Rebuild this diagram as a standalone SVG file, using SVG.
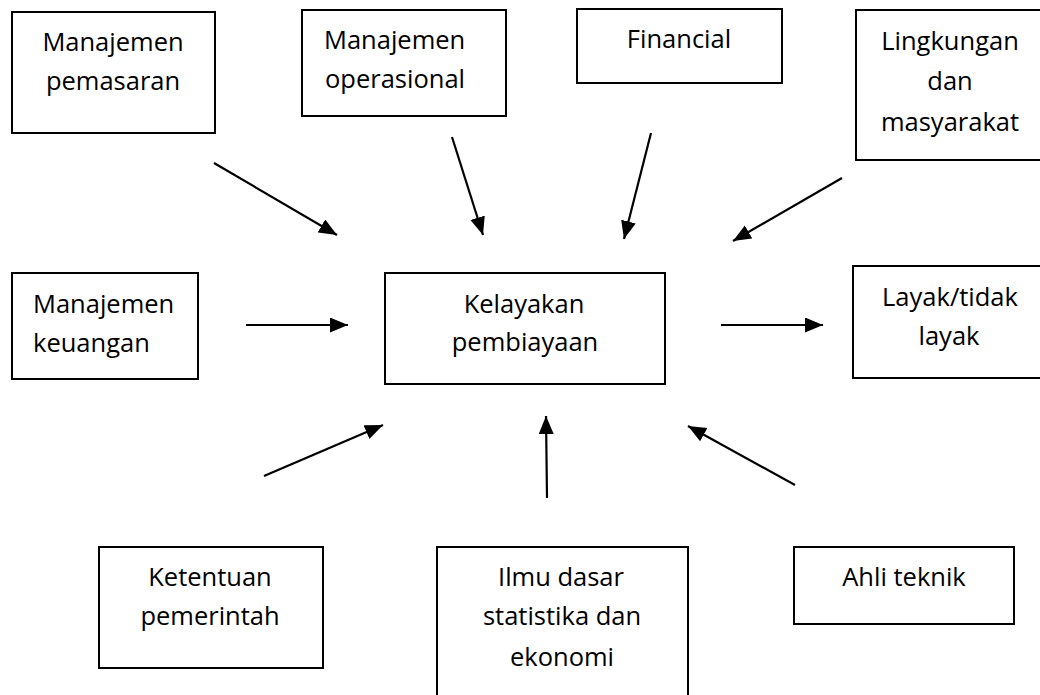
<svg xmlns="http://www.w3.org/2000/svg" width="1040" height="695" viewBox="0 0 1040 695">
<defs>
<marker id="arr" markerUnits="userSpaceOnUse" markerWidth="20" markerHeight="16" refX="18" refY="7.5" orient="auto">
<path d="M0,0 L18,7.5 L0,15 z" fill="#000"/>
</marker>
<style>
.box{fill:#fff;stroke:#000;stroke-width:2}
.t{font-family:"Open Sans","Noto Sans",sans-serif;font-size:25.5px;fill:#000}
.c{text-anchor:middle}
.con line{stroke:#000;stroke-width:2.2;marker-end:url(#arr)}
</style>
</defs>
<rect width="1040" height="695" fill="#fff"/>
<g id="n-pemasaran"><rect class="box" x="12" y="12" width="203" height="121"/>
<text class="t c" x="113" y="51">Manajemen</text><text class="t c" x="113" y="90">pemasaran</text></g>
<g id="n-operasional"><rect class="box" x="302" y="10" width="204" height="106"/>
<text class="t" x="324" y="49">Manajemen</text><text class="t" x="325" y="88">operasional</text></g>
<g id="n-financial"><rect class="box" x="577" y="9" width="205" height="74"/>
<text class="t c" x="679" y="48">Financial</text></g>
<g id="n-lingkungan"><rect class="box" x="856" y="10" width="200" height="150"/>
<text class="t c" x="950" y="50">Lingkungan</text><text class="t c" x="950" y="90">dan</text><text class="t c" x="950" y="131">masyarakat</text></g>
<g id="n-keuangan"><rect class="box" x="12" y="273" width="186" height="106"/>
<text class="t" x="33" y="313">Manajemen</text><text class="t" x="33" y="352">keuangan</text></g>
<g id="n-kelayakan"><rect class="box" x="385" y="273" width="280" height="111"/>
<text class="t c" x="524" y="313">Kelayakan</text><text class="t c" x="525" y="351">pembiayaan</text></g>
<g id="n-layak"><rect class="box" x="853" y="266" width="200" height="112"/>
<text class="t c" x="950" y="306">Layak/tidak</text><text class="t c" x="949" y="345">layak</text></g>
<g id="n-ketentuan"><rect class="box" x="99" y="547" width="224" height="121"/>
<text class="t c" x="210" y="586">Ketentuan</text><text class="t c" x="210" y="625">pemerintah</text></g>
<g id="n-ilmu"><rect class="box" x="437" y="547" width="251" height="160"/>
<text class="t c" x="561" y="586">Ilmu dasar</text><text class="t c" x="562" y="625">statistika dan</text><text class="t c" x="562" y="666">ekonomi</text></g>
<g id="n-ahli"><rect class="box" x="794" y="547" width="220" height="77"/>
<text class="t c" x="904" y="586">Ahli teknik</text></g>
<g id="connectors" class="con">
<line x1="214" y1="163" x2="337" y2="235"/>
<line x1="452" y1="137" x2="483" y2="235"/>
<line x1="651" y1="133" x2="624" y2="239"/>
<line x1="842" y1="178" x2="733" y2="241"/>
<line x1="246" y1="325" x2="348" y2="325"/>
<line x1="721" y1="325" x2="823" y2="325"/>
<line x1="264" y1="476" x2="383" y2="425"/>
<line x1="547" y1="498" x2="546" y2="416"/>
<line x1="795" y1="485" x2="688" y2="426"/>
</g>
</svg>
